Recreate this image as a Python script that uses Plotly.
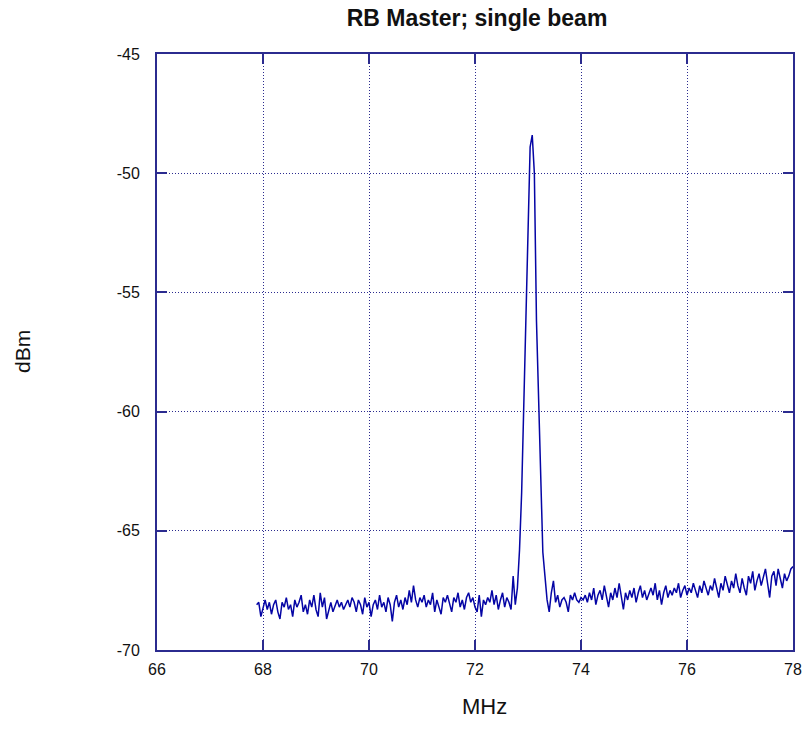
import numpy as np
import plotly.graph_objects as go

# Sweep parameters (linear frequency grid of the analyzer trace)
freq_start_mhz = 67.88
freq_stop_mhz = 78.00

dbm_pre_peak = [
    -68.1, -68.0, -68.6, -68.2, -67.9, -68.3, -68.0, -68.5, -68.1, -67.9,
    -68.4, -68.7, -68.0, -68.2, -67.8, -68.3, -68.1, -68.6, -67.9, -68.2,
    -68.0, -67.7, -68.4, -68.1, -68.5, -67.9, -68.2, -67.7, -68.3, -68.6,
    -67.6, -68.2, -67.8, -68.7, -68.3, -68.0, -68.4, -68.1, -67.9, -68.2,
    -68.0, -68.3, -68.1, -67.9, -68.2, -67.8, -68.0, -68.4, -67.9, -68.1,
    -68.5, -67.8, -68.2, -68.0, -68.6, -68.1, -67.9, -68.3, -67.7, -68.2,
    -68.0, -68.4, -67.8, -68.1, -68.8, -68.0, -67.7, -68.2, -67.9, -68.3,
    -67.8, -68.1, -67.5, -68.0, -67.3, -67.9, -68.2, -67.8, -68.0, -67.7,
    -68.2, -67.9, -68.1, -67.6, -68.4, -67.9, -68.2, -68.5, -67.8, -68.0,
    -67.7, -68.1, -68.4, -67.8, -68.0, -67.6, -68.2, -67.9, -68.3, -67.8,
    -67.6, -68.0, -67.8, -68.2, -68.4, -67.7, -68.6, -67.9, -68.1, -67.8,
    -68.0, -67.5, -68.1, -67.7, -68.3, -67.9, -67.6, -68.2, -67.8, -68.0,
    -68.3, -66.9,
]
dbm_peak = [
    -68.1, -67.4, -65.8, -63.4, -59.6, -56.2, -52.9, -48.9, -48.4, -50.0,
    -56.2, -59.6, -63.0, -65.9, -66.9,
]
dbm_post_peak = [
    -67.9, -68.4, -67.6, -67.1, -68.0, -67.7, -68.2, -67.9, -67.8, -68.0,
    -68.4, -67.7, -67.9, -67.6, -67.9, -68.0, -67.8, -67.9, -67.7, -68.0,
    -67.6, -67.9, -67.4, -68.1, -67.7, -67.5, -67.9, -67.3, -67.8, -68.2,
    -67.6, -67.9, -67.4, -67.8, -67.2, -67.7, -68.3, -67.6, -67.9, -67.5,
    -67.8, -67.4, -68.0, -67.6, -67.3, -67.8, -67.5, -67.9, -67.6, -67.4,
    -67.7, -67.2, -67.9, -67.5, -68.1, -67.6, -67.3, -67.8, -67.5, -67.7,
    -67.4, -67.6, -67.2, -67.8, -67.5, -67.3, -67.7, -67.4, -67.6, -67.2,
    -67.5, -67.8, -67.3, -67.6, -67.1, -67.4, -67.7, -67.3, -67.5, -67.0,
    -67.4, -67.8, -67.2, -67.5, -66.9, -67.3, -67.6, -67.1, -67.4, -66.8,
    -67.3, -67.6, -67.0, -67.4, -67.7, -66.9, -67.2, -66.7, -67.5, -67.1,
    -66.8, -67.3, -67.0, -66.6, -67.2, -67.8, -66.9, -66.7, -67.3, -66.6,
    -67.0, -67.4, -66.8, -67.1, -66.9, -66.6, -66.5,
]

dbm = dbm_pre_peak + dbm_peak + dbm_post_peak
freq = np.linspace(freq_start_mhz, freq_stop_mhz, len(dbm))

x_ticks = [66, 68, 70, 72, 74, 76, 78]
y_ticks = [-70, -65, -60, -55, -50, -45]

title_text = "RB Master; single beam"
x_label = "MHz"
y_label = "dBm"

axis_col = "#2b2b8f"
font_fam = "Liberation Sans, Arial, sans-serif"

W, H = 805, 745
L, R, T, B = 157, 12, 54, 95
plot_w = W - L - R
plot_h = H - T - B

fig = go.Figure()
fig.add_trace(go.Scatter(
    x=freq, y=dbm, mode="lines",
    line=dict(color="#0505a5", width=1.5),
    showlegend=False, hoverinfo="skip",
))

axis_common = dict(
    showline=True, linecolor=axis_col, linewidth=2, mirror="ticks",
    ticks="inside", ticklen=10, tickwidth=1.5, tickcolor=axis_col,
    showgrid=True, gridcolor=axis_col, griddash="1px,2px", gridwidth=1,
    zeroline=False, ticklabeloverflow="allow",
    tickfont=dict(family=font_fam, size=16, color="#111111"),
)

fig.update_xaxes(range=[66, 78], tickvals=x_ticks, ticktext=[str(v) for v in x_ticks],
                 ticklabelstandoff=4, **axis_common)
fig.update_yaxes(range=[-70, -45], tickvals=y_ticks, ticktext=[str(v) for v in y_ticks],
                 ticklabelstandoff=12, **axis_common)

fig.update_layout(
    width=W, height=H, autosize=False,
    margin=dict(l=L, r=R, t=T, b=B, autoexpand=False),
    paper_bgcolor="white", plot_bgcolor="white",
    title=dict(text="<b>" + title_text + "</b>", x=477 / W, xanchor="center",
               y=1 - 18 / H, yanchor="middle",
               font=dict(family=font_fam, size=23, color="#111111")),
    annotations=[
        dict(text=x_label, xref="paper", yref="paper", x=(484 - L) / plot_w,
             y=-(706 - 650) / plot_h,
             yanchor="middle", xanchor="center", showarrow=False,
             font=dict(family=font_fam, size=22, color="#111111")),
        dict(text=y_label, xref="paper", yref="paper", x=-(157 - 22) / plot_w, y=0.5,
             xanchor="center", yanchor="middle", textangle=-90, showarrow=False,
             font=dict(family=font_fam, size=21, color="#111111")),
    ],
)

# remove the page's default body margin so the figure fills the 805x745 window
post_js = (
    "document.body.style.margin='0px';"
    "document.body.style.overflow='hidden';"
    "document.documentElement.style.overflow='hidden';"
    "var gd=document.getElementById('{plot_id}');"
    "gd.style.width='805px';gd.style.height='745px';"
    "Plotly.relayout(gd,{width:805,height:745,autosize:false});"
)

fig.write_html("out.html", post_script=post_js,
               config={"displayModeBar": False, "responsive": False})
